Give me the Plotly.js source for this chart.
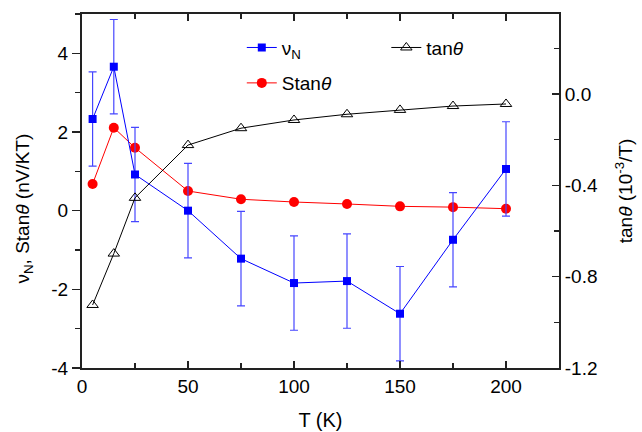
<!DOCTYPE html>
<html>
<head>
<meta charset="utf-8">
<script src="https://cdn.plot.ly/plotly-3.0.1.min.js"></script>
<style>html,body{margin:0;padding:0;background:#fff;}#chart{width:642px;height:432px;}</style>
</head>
<body>
<div id="chart"></div>
<script>
// Temperature (K)
const T = [5, 15, 25, 50, 75, 100, 125, 150, 175, 200];
// nu_N (nV/KT)
const nuN = [2.33, 3.66, 0.92, 0.0, -1.22, -1.84, -1.79, -2.62, -0.74, 1.06];
const nuNErr = [1.2, 1.2, 1.2, 1.2, 1.2, 1.2, 1.2, 1.2, 1.2, 1.2];
// S tan(theta) (nV/KT)
const Stan = [0.68, 2.11, 1.60, 0.50, 0.29, 0.22, 0.17, 0.11, 0.09, 0.05];
// tan(theta) (1e-3/T)
const tanTheta = [-0.924, -0.699, -0.455, -0.224, -0.150, -0.114, -0.089, -0.070, -0.053, -0.044];

const xTickVals = [0, 50, 100, 150, 200];
const yTickVals = [-4, -2, 0, 2, 4];
const yTickText = ['-4', '-2', '0', '2', '4'];
const y2TickVals = [-1.2, -0.8, -0.4, 0.0];
const y2TickText = ['-1.2', '-0.8', '-0.4', '0.0'];
const yTitle = 'ν<sub>N</sub>, Stan<i>θ</i> (nV/KT)';
const y2Title = 'tan<i>θ</i> (10<sup>-3</sup>/T)';

const FONT = 'Liberation Sans, Arial, sans-serif';
const AX = '#222';

const traces = [
  {
    x: T, y: Stan, name: 'Stan<i>θ</i>', type: 'scatter', mode: 'lines+markers',
    line: {color: '#ff0000', width: 1},
    marker: {symbol: 'circle', size: 10, color: '#ff0000'},
    legend: 'legend2'
  },
  {
    x: T, y: nuN, name: 'ν<sub>N</sub>', type: 'scatter', mode: 'lines+markers',
    line: {color: '#0000ff', width: 1},
    marker: {symbol: 'square', size: 8, color: '#0000ff'},
    error_y: {type: 'data', array: nuNErr, visible: true, color: 'rgb(70,70,255)', thickness: 1.2, width: 4},
    legend: 'legend'
  },
  {
    x: T, y: tanTheta, name: 'tan<i>θ</i>', type: 'scatter', mode: 'lines+markers', yaxis: 'y2',
    line: {color: '#000000', width: 1},
    marker: {symbol: 'triangle-up-open', size: 10, color: '#000000', line: {width: 1}},
    legend: 'legend3'
  }
];

const legendBase = {
  bgcolor: 'rgba(0,0,0,0)', borderwidth: 0, font: {family: FONT, size: 19, color: '#000'},
  xanchor: 'left', yanchor: 'middle'
};

const layout = {
  width: 642, height: 432,
  margin: {l: 82, r: 83, t: 14, b: 64},
  paper_bgcolor: '#fff', plot_bgcolor: '#fff',
  font: {family: FONT, size: 19, color: '#000'},
  showlegend: true,
  legend: Object.assign({}, legendBase, {x: 0.335, y: 0.905}),
  legend2: Object.assign({}, legendBase, {x: 0.335, y: 0.805}),
  legend3: Object.assign({}, legendBase, {x: 0.638, y: 0.905}),
  xaxis: {
    range: [0, 225], tickvals: xTickVals, ticks: 'inside', ticklen: 7, tickwidth: 1.5, tickcolor: AX,
    minor: {dtick: 25, tick0: 0, ticks: 'inside', ticklen: 5, tickwidth: 1.5, tickcolor: AX},
    showline: true, linewidth: 2, linecolor: AX, mirror: 'ticks',
    showgrid: false, zeroline: false,
    tickfont: {family: FONT, size: 19},
    title: {text: 'T (K)', font: {family: FONT, size: 20}, standoff: 17}
  },
  yaxis: {
    range: [-4, 5], tickvals: yTickVals, ticktext: yTickText, ticks: 'outside', ticklen: 8, tickwidth: 1.5, tickcolor: AX,
    minor: {dtick: 1, tick0: 0, ticks: 'outside', ticklen: 5, tickwidth: 1.5, tickcolor: AX},
    showline: true, linewidth: 2, linecolor: AX,
    showgrid: false, zeroline: false,
    tickfont: {family: FONT, size: 19}
  },
  yaxis2: {
    overlaying: 'y', side: 'right', anchor: 'x',
    range: [-1.2, 0.35], tickvals: y2TickVals, ticktext: y2TickText, ticks: 'inside', ticklen: 7, tickwidth: 1.5, tickcolor: AX,
    minor: {dtick: 0.2, tick0: 0, ticks: 'inside', ticklen: 5, tickwidth: 1.5, tickcolor: AX},
    showline: true, linewidth: 2, linecolor: AX,
    showgrid: false, zeroline: false,
    tickfont: {family: FONT, size: 19},
    title: {text: y2Title, font: {family: FONT, size: 19}, standoff: 22}
  },
  annotations: [
    {
      text: yTitle, xref: 'paper', yref: 'paper', x: -0.122, y: 0.45,
      xanchor: 'center', yanchor: 'middle', textangle: -90, showarrow: false,
      font: {family: FONT, size: 19, color: '#000'}
    }
  ]
};

Plotly.newPlot('chart', traces, layout, {staticPlot: true, displayModeBar: false});
</script>
</body>
</html>
